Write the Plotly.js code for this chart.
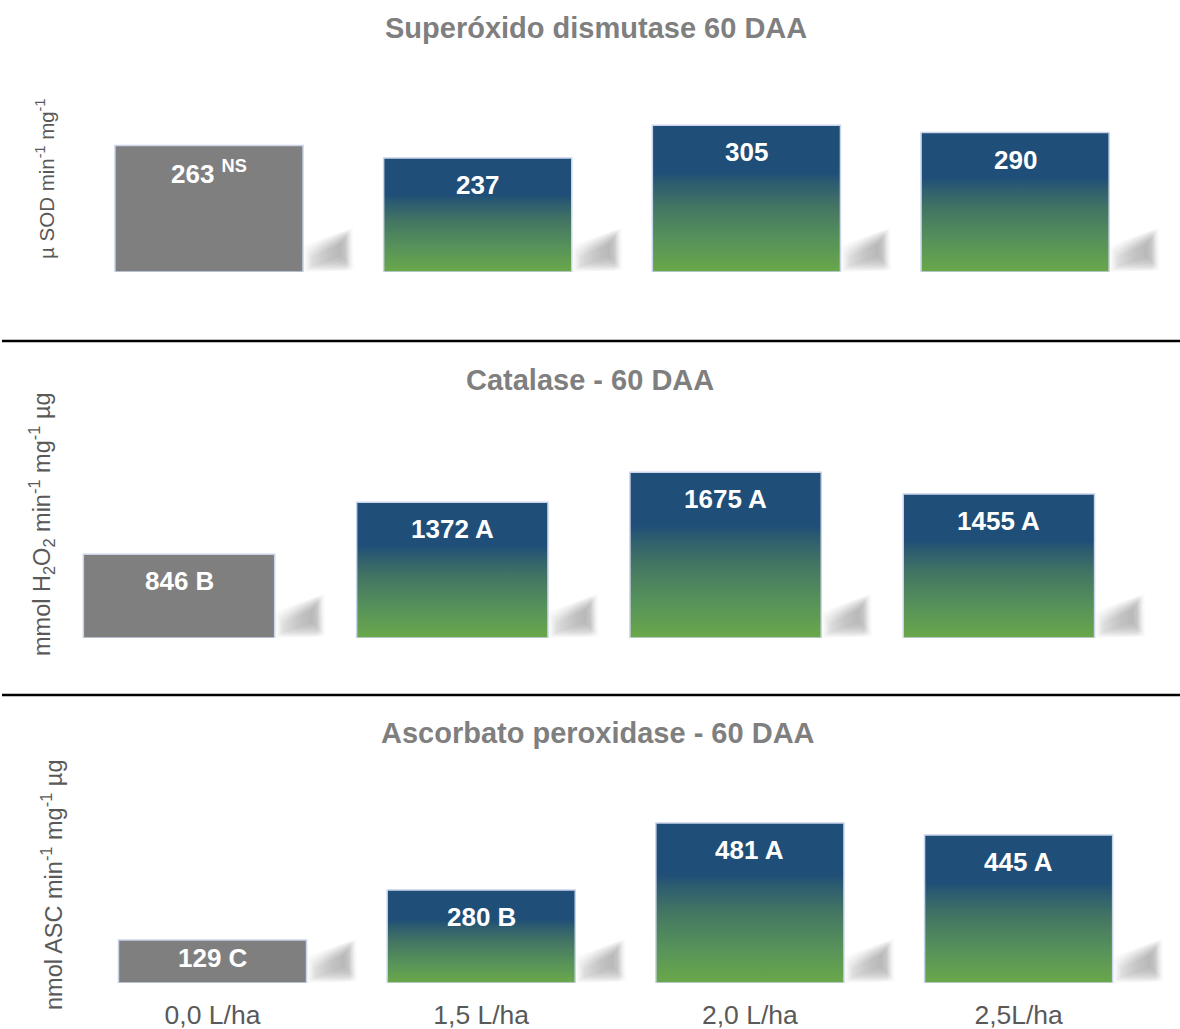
<!DOCTYPE html>
<html>
<head>
<meta charset="utf-8">
<script src="https://cdn.plot.ly/plotly-3.0.1.min.js"></script>
<style>html,body{margin:0;padding:0;background:#fff;}#chart{width:1180px;height:1029px;}</style>
</head>
<body>
<div id="chart"></div>
<script>
// ---------- data ----------
const doses = ['0,0 L/ha', '1,5 L/ha', '2,0 L/ha', '2,5L/ha'];

const sodValues = [263, 237, 305, 290];
const sodLetters = ['', '', '', ''];
const sodNote = 'NS';

const catValues = [846, 1372, 1675, 1455];
const catLetters = ['B', 'A', 'A', 'A'];

const apxValues = [129, 280, 481, 445];
const apxLetters = ['C', 'B', 'A', 'A'];

const panelTitles = ['Superóxido dismutase 60 DAA', 'Catalase - 60 DAA', 'Ascorbato peroxidase - 60 DAA'];
const yTitles = [
  'µ SOD min<sup>-1</sup> mg<sup>-1</sup>',
  'mmol H<sub>2</sub>O<sub>2</sub> min<sup>-1</sup> mg<sup>-1</sup> µg',
  'nmol ASC min<sup>-1</sup> mg<sup>-1</sup> µg'
];

// ---------- layout geometry (pixels) ----------
const W = 1180, H = 1029;
const FONT = 'Liberation Sans, Arial, Helvetica, sans-serif';
const BAR_W = 0.70;
const panels = [
  {values: sodValues, letters: sodLetters, ymax: 330, zeroPx: 272, scale: 0.481, x0: 209, dx: 268.7, xr: 3.6, titleX: 596, titleY: 28, yTitleX: 45, yTitleY: 179, yTitleSize: 20.5},
  {values: catValues, letters: catLetters, ymax: 1800, zeroPx: 638, scale: 0.0990, x0: 179, dx: 273.3, xr: 3.6, titleX: 590, titleY: 380, yTitleX: 41, yTitleY: 524, yTitleSize: 23.5},
  {values: apxValues, letters: apxLetters, ymax: 540, zeroPx: 983, scale: 0.3326, x0: 212.5, dx: 268.7, xr: 3.6, titleX: 598, titleY: 733, yTitleX: 52, yTitleY: 885, yTitleSize: 23.5}
];

const gradScale = [
  [0, '#6aa84a'],
  [0.22, '#57925a'],
  [0.45, '#437563'],
  [0.60, '#2e5d6f'],
  [0.68, '#1f4e78'],
  [1, '#1f4e78']
];
const shadowScale = [
  [0, 'rgba(140,140,140,0.02)'],
  [0.5, 'rgba(140,140,140,0.10)'],
  [0.82, 'rgba(140,140,140,0.14)'],
  [1, 'rgba(140,140,140,0)']
];
// soft shadow: outer and inner outlines, offsets in px from the bar's bottom-right corner [dx, dy up]
const shadowOuter = [[0, 0], [0, 26], [50, 44], [52, 2]];
const shadowInner = [[8, 5], [8, 15], [38, 29], [38, 15]];
const SHADOW_STEPS = 7;

const traces = [];
const annotations = [];
const layout = {
  width: W, height: H,
  margin: {l: 0, r: 0, t: 0, b: 0},
  paper_bgcolor: '#ffffff', plot_bgcolor: 'rgba(0,0,0,0)',
  showlegend: false,
  font: {family: FONT},
  shapes: [],
  annotations: annotations
};

panels.forEach((p, k) => {
  const n = k === 0 ? '' : String(k + 1);
  const xa = 'x' + n, ya = 'y' + n;
  const topPx = p.zeroPx - p.ymax * p.scale;
  const leftPx = p.x0 - 0.5 * p.dx;
  const rightPx = Math.min(W, p.x0 + p.xr * p.dx);
  layout['xaxis' + n] = {
    domain: [leftPx / W, rightPx / W],
    range: [-0.5, (rightPx - p.x0) / p.dx],
    anchor: ya,
    showgrid: false, zeroline: false, showline: false, ticks: '',
    tickmode: 'array', tickvals: doses.map((d, i) => i), ticktext: doses,
    showticklabels: k === 2,
    tickfont: {family: FONT, size: 26.5, color: '#595959'},
    ticklabelstandoff: 13,
    fixedrange: true
  };
  layout['yaxis' + n] = {
    domain: [1 - p.zeroPx / H, 1 - topPx / H],
    range: [0, p.ymax],
    anchor: xa,
    showgrid: false, zeroline: false, showline: false, ticks: '',
    showticklabels: false, fixedrange: true
  };

  p.values.forEach((v, i) => {
    const L = i - BAR_W / 2, R = i + BAR_W / 2;
    // soft shadow (decorative, placed from the bar's own position)
    for (let s = 0; s < SHADOW_STEPS; s++) {
      const t = s / (SHADOW_STEPS - 1);
      const poly = shadowOuter.map((pt, j) => [
        pt[0] * (1 - t) + shadowInner[j][0] * t,
        pt[1] * (1 - t) + shadowInner[j][1] * t
      ]);
      const xs = poly.map(pt => R + pt[0] / p.dx);
      const ys = poly.map(pt => pt[1] / p.scale);
      xs.push(xs[0]); ys.push(ys[0]);
      traces.push({
        type: 'scatter', xaxis: xa, yaxis: ya, mode: 'lines', hoverinfo: 'skip',
        x: xs, y: ys,
        fill: 'toself', line: {width: 0, color: 'rgba(0,0,0,0)'},
        fillgradient: {type: 'horizontal', start: R, stop: R + 52 / p.dx, colorscale: shadowScale}
      });
    }
    // bar
    const bar = {
      type: 'scatter', xaxis: xa, yaxis: ya, mode: 'lines', hoverinfo: 'skip',
      x: [L, L, R, R, L],
      y: [0, v, v, 0, 0],
      fill: 'toself', line: {width: 1.5, color: '#c9d4ea'}
    };
    if (i === 0) {
      bar.fillcolor = '#7f7f7f';
    } else {
      bar.fillgradient = {type: 'vertical', start: 0, stop: v, colorscale: gradScale};
    }
    traces.push(bar);
    // value label
    const hpx = v * p.scale;
    const off = Math.min(27, hpx / 2 - 4);
    let txt = String(v);
    if (p.letters[i]) txt += ' ' + p.letters[i];
    if (k === 0 && i === 0) txt += ' <sup>' + sodNote + '</sup>';
    annotations.push({
      xref: xa, yref: ya, x: i, y: v, yanchor: 'middle', xanchor: 'center',
      yshift: -off, showarrow: false, text: txt,
      font: {family: FONT, size: 26, color: '#ffffff', weight: 'bold'}
    });
  });

  // panel title
  annotations.push({
    xref: 'paper', yref: 'paper', x: p.titleX / W, y: 1 - p.titleY / H,
    xanchor: 'center', yanchor: 'middle', showarrow: false,
    text: '<b>' + panelTitles[k] + '</b>',
    font: {family: FONT, size: 29, color: '#7f7f7f'}
  });
  // y-axis title
  annotations.push({
    xref: 'paper', yref: 'paper', x: p.yTitleX / W, y: 1 - p.yTitleY / H,
    xanchor: 'center', yanchor: 'middle', showarrow: false, textangle: -90,
    text: yTitles[k],
    font: {family: FONT, size: p.yTitleSize, color: '#595959'}
  });
});

// separator lines between panels
[341, 695].forEach(py => {
  layout.shapes.push({
    type: 'line', xref: 'paper', yref: 'paper',
    x0: 2 / W, x1: 1, y0: 1 - py / H, y1: 1 - py / H,
    line: {color: '#000000', width: 2.5}
  });
});

Plotly.newPlot('chart', traces, layout, {staticPlot: true, displayModeBar: false});
</script>
</body>
</html>
